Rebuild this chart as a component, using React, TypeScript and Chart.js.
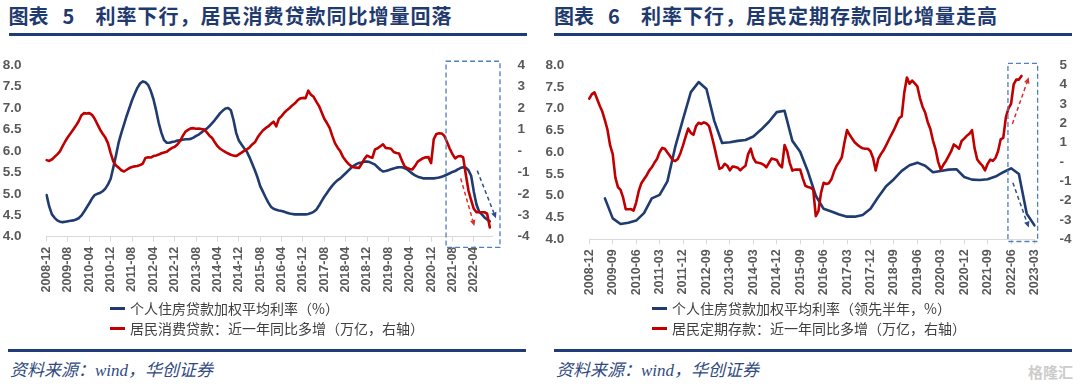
import React, { useEffect, useRef } from 'react';
import { Chart, registerables } from 'chart.js';

Chart.register(...registerables);

// ---------- colours ----------
const NAVY = '#1F3B70';
const RED = '#C00000';
const TICK_COLOR = '#595959';
const AXIS_COLOR = '#D9D9D9';
const TITLE_COLOR = '#1F3A6E';
const BOX_COLOR = '#4F7FBF';

// ---------- categories ----------
function monthsFrom(year: number, month: number, count: number): string[] {
  const out: string[] = [];
  for (let k = 0; k < count; k++) {
    const m = month - 1 + k;
    const yy = year + Math.floor(m / 12);
    const mm = (m % 12) + 1;
    out.push(`${yy}-${String(mm).padStart(2, '0')}`);
  }
  return out;
}
const leftMonths = monthsFrom(2008, 12, 168); // 2008-12 .. 2022-11
const rightMonths = monthsFrom(2008, 12, 172); // 2008-12 .. 2023-03

const leftTickLabels = [
  '2008-12', '2009-08', '2010-04', '2010-12', '2011-08', '2012-04', '2012-12',
  '2013-08', '2014-04', '2014-12', '2015-08', '2016-04', '2016-12', '2017-08',
  '2018-04', '2018-12', '2019-08', '2020-04', '2020-12', '2021-08', '2022-04',
];
const rightTickLabels = [
  '2008-12', '2009-09', '2010-06', '2011-03', '2011-12', '2012-09', '2013-06',
  '2014-03', '2014-12', '2015-09', '2016-06', '2017-03', '2017-12', '2018-09',
  '2019-06', '2020-03', '2020-12', '2021-09', '2022-06', '2023-03',
];

// ---------- figure 5 data (monthly from 2008-12) ----------
// 个人住房贷款加权平均利率（%）
const leftRate = [
  4.97, 4.70, 4.52, 4.44, 4.38, 4.35, 4.34, 4.35, 4.36, 4.37,
  4.38, 4.40, 4.43, 4.49, 4.58, 4.68, 4.78, 4.89, 4.97, 5.00,
  5.02, 5.06, 5.12, 5.22, 5.35, 5.62, 5.90, 6.20, 6.42, 6.62,
  6.82, 7.00, 7.18, 7.33, 7.47, 7.57, 7.62, 7.60, 7.54, 7.40,
  7.21, 6.95, 6.65, 6.42, 6.25, 6.19, 6.19, 6.21, 6.22, 6.24,
  6.25, 6.26, 6.27, 6.27, 6.28, 6.31, 6.35, 6.38, 6.43, 6.48,
  6.52, 6.58, 6.65, 6.72, 6.80, 6.88, 6.94, 6.99, 7.00, 6.95,
  6.72, 6.42, 6.24, 6.15, 6.06, 5.98, 5.85, 5.70, 5.55, 5.38,
  5.18, 5.05, 4.92, 4.80, 4.70, 4.65, 4.63, 4.61, 4.60, 4.58,
  4.56, 4.54, 4.53, 4.52, 4.52, 4.52, 4.52, 4.52, 4.53, 4.55,
  4.58, 4.63, 4.72, 4.83, 4.93, 5.02, 5.11, 5.19, 5.26, 5.32,
  5.36, 5.42, 5.48, 5.54, 5.60, 5.65, 5.69, 5.72, 5.73, 5.75,
  5.75, 5.74, 5.71, 5.68, 5.62, 5.56, 5.52, 5.53, 5.55, 5.57,
  5.59, 5.61, 5.62, 5.62, 5.60, 5.57, 5.52, 5.47, 5.43, 5.40,
  5.38, 5.36, 5.36, 5.36, 5.36, 5.36, 5.37, 5.38, 5.40, 5.42,
  5.45, 5.48, 5.51, 5.53, 5.57, 5.60, 5.62, 5.61, 5.55, 5.42,
  5.05, 4.75, 4.58, 4.52, 4.45, 4.40, 4.36,
];
// 居民消费贷款：近一年同比多增（万亿，右轴）
const leftLoan = [
  -0.43, -0.47, -0.40, -0.28, -0.16, -0.02, 0.22, 0.45, 0.65, 0.82,
  1.00, 1.18, 1.38, 1.65, 1.76, 1.74, 1.76, 1.68, 1.50, 1.25,
  1.00, 0.80, 0.62, 0.35, -0.10, -0.50, -0.68, -0.78, -0.90, -0.96,
  -0.88, -0.80, -0.75, -0.72, -0.70, -0.66, -0.60, -0.33, -0.30, -0.31,
  -0.24, -0.21, -0.17, -0.11, -0.07, -0.04, 0.06, 0.14, 0.19, 0.30,
  0.46, 0.70, 0.90, 0.98, 1.05, 1.06, 1.03, 1.04, 1.02, 1.00,
  0.86, 0.71, 0.60, 0.40, 0.22, 0.10, 0.02, -0.06, -0.12, -0.18,
  -0.22, -0.24, -0.16, -0.08, 0.00, 0.07, 0.16, 0.30, 0.40, 0.62,
  0.80, 0.95, 1.06, 1.14, 1.26, 1.36, 1.14, 1.50, 1.62, 1.78,
  1.90, 2.00, 2.12, 2.22, 2.36, 2.45, 2.47, 2.46, 2.81, 2.62,
  2.52, 2.30, 2.10, 1.80, 1.50, 1.30, 1.07, 0.70, 0.36, 0.15,
  -0.02, -0.28, -0.45, -0.60, -0.70, -0.76, -0.78, -0.80, -0.60, -0.38,
  -0.22, -0.28, -0.32, 0.07, 0.12, 0.22, 0.31, 0.14, 0.12, 0.10,
  -0.05, -0.10, -0.12, -0.43, -0.70, -0.80, -0.84, -0.86, -0.70, -0.50,
  -0.42, -0.34, -0.30, -0.29, -0.57, 0.55, 0.79, 0.82, 0.81, 0.70,
  0.40, 0.10, -0.15, -0.35, -0.26, -0.24, -0.29, -1.10, -1.85, -2.30,
  -2.70, -2.86, -2.86, -2.86, -2.86, -2.93, -3.57,
];

// ---------- figure 6 data ----------
// 个人住房贷款加权平均利率（领先半年，%）: quarterly, from 2009-06
const rightRateStart = '2009-06';
const rightRateQuarterly = [
  4.94, 4.48, 4.35, 4.38, 4.43, 4.60, 4.94, 5.02, 5.33, 6.12,
  6.76, 7.38, 7.61, 7.45, 6.72, 6.21, 6.23, 6.26, 6.28, 6.36,
  6.52, 6.70, 6.92, 6.95, 6.26, 6.01, 5.55, 5.00, 4.70, 4.64,
  4.57, 4.52, 4.52, 4.56, 4.70, 4.97, 5.22, 5.38, 5.57, 5.70,
  5.76, 5.69, 5.54, 5.57, 5.60, 5.61, 5.43, 5.37, 5.36, 5.38,
  5.44, 5.54, 5.63, 5.50, 4.59, 4.32,
];
// 居民定期存款：近一年同比多增（万亿，右轴）: monthly from 2008-12
const rightDeposit = [
  3.27, 3.50, 3.59, 3.25, 2.90, 2.60, 2.15, 1.65, 0.85, 0.40,
  -0.80, -1.30, -1.45, -1.85, -2.45, -2.45, -2.44, -2.52, -2.10, -1.50,
  -1.10, -0.90, -0.70, -0.45, -0.28, -0.05, 0.15, 0.50, 0.72, 0.68,
  0.48, 0.30, 0.10, 0.04, 0.15, 0.45, 0.85, 1.30, 1.72, 1.50,
  1.40, 1.85, 2.02, 1.96, 2.04, 1.98, 1.85, 1.35, 0.80, 0.20,
  -0.36, -0.30, -0.10, -0.20, -0.44, -0.24, -0.26, -0.30, -0.44, -0.30,
  -0.20, 0.40, 0.68, 0.20, -0.02, -0.05, -0.08, -0.15, -0.28, -0.05,
  0.17, 0.14, 0.10, -0.15, -0.28, 0.87, 0.55, -0.05, -0.45, -0.40,
  -0.40, -0.40, -0.85, -1.24, -1.30, -1.34, -1.42, -2.80, -2.55, -1.60,
  -1.08, -1.14, -1.10, -0.90, -0.50, -0.20, 0.00, 0.25, 1.00, 1.64,
  1.40, 1.20, 1.00, 0.88, 0.78, 0.70, 0.68, 0.68, 0.55, 0.20,
  -0.44, 0.15, 0.40, 0.60, 0.85, 1.13, 1.40, 1.65, 1.95, 2.25,
  2.36, 3.60, 4.36, 4.04, 4.20, 4.05, 3.90, 3.30, 2.85, 2.55,
  2.05, 1.70, 1.10, 0.65, 0.00, -0.40, -0.15, 0.05, 0.30, 0.55,
  0.90, 0.80, 0.68, 1.08, 1.20, 1.35, 1.45, 1.64, 0.70, 0.12,
  -0.05, -0.20, -0.44, -0.10, 0.12, 0.05, 0.20, 0.55, 1.16, 1.24,
  2.30, 2.76, 3.00, 4.00, 4.25, 4.25, 4.44,
];

// ---------- annotations (in data units: category index, left-axis value) ----------
const leftBox = [149.6, 169.8, 3.75, 8.09];
const leftArrows = [
  { from: [155.1, 5.36], to: [160.2, 4.25], color: '#D9302C' },
  { from: [161.3, 5.54], to: [168.3, 4.43], color: '#2E4F8F' },
];
const rightBox = [160.8, 172.2, 3.95, 8.04];
const rightArrows = [
  { from: [162.5, 6.65], to: [168.8, 7.72], color: '#D9302C' },
  { from: [162.7, 5.30], to: [168.8, 4.27], color: '#2E4F8F' },
];

// ---------- helpers ----------
const W = 540;
const H = 265;

function drawArrow(ctx: any, x0: number, y0: number, x1: number, y1: number, color: string) {
  const ang = Math.atan2(y1 - y0, x1 - x0);
  const head = 6;
  const xe = x1 - Math.cos(ang) * head;
  const ye = y1 - Math.sin(ang) * head;
  ctx.save();
  ctx.strokeStyle = color;
  ctx.fillStyle = color;
  ctx.lineWidth = 1.5;
  ctx.setLineDash([4, 3]);
  ctx.beginPath();
  ctx.moveTo(x0, y0);
  ctx.lineTo(xe, ye);
  ctx.stroke();
  ctx.setLineDash([]);
  const px = Math.cos(ang + Math.PI / 2) * 2.8;
  const py = Math.sin(ang + Math.PI / 2) * 2.8;
  ctx.beginPath();
  ctx.moveTo(x1, y1);
  ctx.lineTo(xe + px, ye + py);
  ctx.lineTo(xe - px, ye - py);
  ctx.closePath();
  ctx.fill();
  ctx.restore();
}

function makeAnnotationPlugin(box: number[], arrows: any[]) {
  return {
    id: 'boxArrows',
    afterDatasetsDraw(chart: any) {
      const { ctx } = chart;
      const xs = chart.scales.x;
      const ys = chart.scales.y;
      const bx0 = xs.getPixelForValue(box[0]);
      const bx1 = xs.getPixelForValue(box[1]);
      const by0 = ys.getPixelForValue(box[3]);
      const by1 = ys.getPixelForValue(box[2]);
      ctx.save();
      ctx.strokeStyle = BOX_COLOR;
      ctx.lineWidth = 1.3;
      ctx.setLineDash([5, 3]);
      ctx.strokeRect(bx0, by0, bx1 - bx0, by1 - by0);
      ctx.restore();
      arrows.forEach((a) => {
        drawArrow(
          ctx,
          xs.getPixelForValue(a.from[0]),
          ys.getPixelForValue(a.from[1]),
          xs.getPixelForValue(a.to[0]),
          ys.getPixelForValue(a.to[1]),
          a.color,
        );
      });
    },
  };
}

type Spec = {
  labels: string[];
  tickLabels: string[];
  datasets: any[];
  yMin: number; yMax: number;
  y1Min: number; y1Max: number;
  area: { top: number; bottom: number; left: number; right: number };
  box: number[];
  arrows: any[];
};

function buildConfig(spec: Spec): any {
  const tickSet = new Set(spec.tickLabels);
  const tickFont = { family: '"Liberation Sans", Arial, sans-serif', size: 13.5, weight: 'bold' };
  return {
    type: 'line',
    data: { labels: spec.labels, datasets: spec.datasets },
    options: {
      responsive: false,
      animation: false,
      events: [],
      layout: { padding: { top: spec.area.top, left: 0, right: 0, bottom: 0 } },
      plugins: { legend: { display: false }, tooltip: { enabled: false }, title: { display: false } },
      elements: {
        point: { radius: 0 },
        line: { tension: 0, borderJoinStyle: 'round', borderCapStyle: 'round' },
      },
      scales: {
        x: {
          type: 'category',
          offset: false,
          grid: { display: true, drawOnChartArea: false, drawTicks: true, tickLength: 5, color: AXIS_COLOR, lineWidth: 1 },
          border: { display: true, color: AXIS_COLOR, width: 1 },
          ticks: {
            autoSkip: false,
            minRotation: 90,
            maxRotation: 90,
            padding: 5,
            color: TICK_COLOR,
            font: { family: '"Liberation Sans", Arial, sans-serif', size: 12.5, weight: 'bold' },
          },
          afterBuildTicks: (s: any) => {
            s.ticks = s.ticks.filter((t: any) => tickSet.has(spec.labels[t.value]));
          },
          afterFit: (s: any) => {
            s.height = H - spec.area.bottom;
          },
        },
        y: {
          position: 'left',
          min: spec.yMin,
          max: spec.yMax,
          grid: { display: false },
          border: { display: false },
          ticks: {
            stepSize: 0.5,
            padding: 17,
            color: TICK_COLOR,
            font: tickFont,
            callback: (v: any) => Number(v).toFixed(1),
          },
          afterFit: (s: any) => {
            s.width = spec.area.left;
          },
        },
        y1: {
          position: 'right',
          min: spec.y1Min,
          max: spec.y1Max,
          grid: { display: false },
          border: { display: false },
          ticks: {
            stepSize: 1,
            padding: 17,
            color: TICK_COLOR,
            font: tickFont,
            callback: (v: any) => (Number(v) === 0 ? '-' : String(v)),
          },
          afterFit: (s: any) => {
            s.width = W - spec.area.right;
          },
        },
      },
    },
    plugins: [makeAnnotationPlugin(spec.box, spec.arrows)],
  };
}

function ChartCanvas({ spec, left }: { spec: Spec; left: number }) {
  const ref = useRef<HTMLCanvasElement | null>(null);
  useEffect(() => {
    if (!ref.current) return;
    const chart = new Chart(ref.current, buildConfig(spec));
    return () => chart.destroy();
  }, []);
  return (
    <canvas
      ref={ref}
      width={W}
      height={H}
      style={{ position: 'absolute', left, top: 40, width: W, height: H }}
    />
  );
}

const leftSpec: Spec = {
  labels: leftMonths,
  tickLabels: leftTickLabels,
  datasets: [
    { label: '个人住房贷款加权平均利率（%）', data: leftRate, yAxisID: 'y', borderColor: NAVY, borderWidth: 2.6, order: 1 },
    { label: '居民消费贷款：近一年同比多增（万亿，右轴）', data: leftLoan, yAxisID: 'y1', borderColor: RED, borderWidth: 2.6, order: 0 },
  ],
  yMin: 4, yMax: 8, y1Min: -4, y1Max: 4,
  area: { top: 10, bottom: 196.7, left: 46.6, right: 492.5 },
  box: leftBox,
  arrows: leftArrows,
};

const rightSpec: Spec = {
  labels: rightMonths,
  tickLabels: rightTickLabels,
  datasets: [
    {
      label: '个人住房贷款加权平均利率（领先半年，%）',
      data: rightRateQuarterly.map((v, k) => ({ x: rightMonths[rightMonths.indexOf(rightRateStart) + 3 * k], y: v })),
      yAxisID: 'y', borderColor: NAVY, borderWidth: 2.6, order: 1,
    },
    { label: '居民定期存款：近一年同比多增（万亿，右轴）', data: rightDeposit, yAxisID: 'y1', borderColor: RED, borderWidth: 2.6, order: 0 },
  ],
  yMin: 4, yMax: 8, y1Min: -4, y1Max: 5,
  area: { top: 11.7, bottom: 199.3, left: 49.3, right: 494.5 },
  box: rightBox,
  arrows: rightArrows,
};

const CJK = '"Noto Sans CJK SC", "Noto Sans", sans-serif';

function Title({ left, num, text }: { left: number; num: string; text: string }) {
  const base: React.CSSProperties = {
    position: 'absolute', top: 6, lineHeight: '20px', fontSize: 20, fontWeight: 700,
    color: TITLE_COLOR, fontFamily: CJK, whiteSpace: 'nowrap',
  };
  return (
    <>
      <span style={{ ...base, left }}>图表</span>
      <span style={{ ...base, left: left + 54 }}>{num}</span>
      <span style={{ ...base, left: left + 87, letterSpacing: 1 }}>{text}</span>
      <div style={{ position: 'absolute', left, top: 33, width: 518, height: 3, background: '#1F3C78' }} />
    </>
  );
}

function Legend({ left, items }: { left: number; items: { color: string; text: string }[] }) {
  return (
    <>
      {items.map((it, i) => (
        <div key={i} style={{ position: 'absolute', left, top: 298 + i * 20, height: 20, whiteSpace: 'nowrap' }}>
          <div style={{ position: 'absolute', left: 0, top: 9, width: 15, height: 3, background: it.color }} />
          <span style={{ position: 'absolute', left: 20, top: 0, lineHeight: '20px', fontSize: 14, color: '#404040', fontFamily: CJK }}>
            {it.text}
          </span>
        </div>
      ))}
    </>
  );
}

function Source({ left }: { left: number }) {
  return (
    <>
      <div style={{ position: 'absolute', left, top: 349, width: 518, height: 3, background: '#1F3C78' }} />
      <span
        style={{
          position: 'absolute', left: left + 2, top: 361, lineHeight: '20px', fontSize: 17,
          fontStyle: 'italic', color: '#2F4A80', whiteSpace: 'nowrap',
          fontFamily: '"Liberation Serif", "Noto Sans CJK SC", serif',
        }}
      >
        资料来源：wind，华创证券
      </span>
    </>
  );
}

export default function App() {
  return (
    <div style={{ position: 'absolute', left: 0, top: 0, width: 1080, height: 389, background: '#fff', overflow: 'hidden' }}>
      <Title left={8.6} num="5" text="利率下行，居民消费贷款同比增量回落" />
      <Title left={554} num="6" text="利率下行，居民定期存款同比增量走高" />
      <ChartCanvas spec={leftSpec} left={0} />
      <ChartCanvas spec={rightSpec} left={540} />
      <Legend
        left={110}
        items={[
          { color: NAVY, text: '个人住房贷款加权平均利率（%）' },
          { color: RED, text: '居民消费贷款：近一年同比多增（万亿，右轴）' },
        ]}
      />
      <Legend
        left={652}
        items={[
          { color: NAVY, text: '个人住房贷款加权平均利率（领先半年，%）' },
          { color: RED, text: '居民定期存款：近一年同比多增（万亿，右轴）' },
        ]}
      />
      <Source left={8} />
      <Source left={554} />
      <span
        style={{
          position: 'absolute', left: 1028, top: 362, lineHeight: '20px', fontSize: 15, fontWeight: 700,
          color: '#CCCCCC', fontFamily: CJK,
        }}
      >
        格隆汇
      </span>
    </div>
  );
}
